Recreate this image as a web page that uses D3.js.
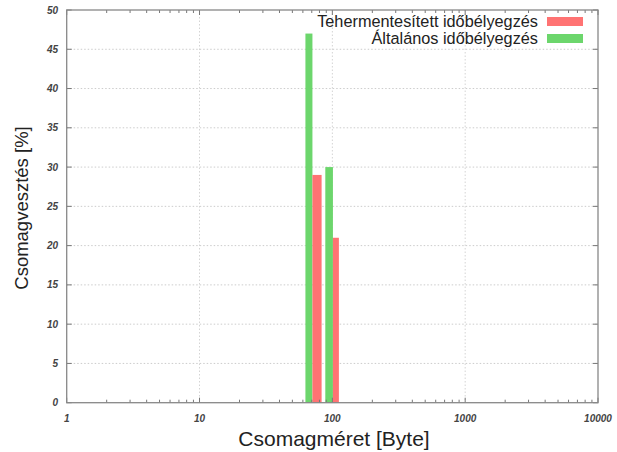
<!DOCTYPE html>
<html><head><meta charset="utf-8">
<script src="https://cdn.jsdelivr.net/npm/d3@7"></script>
<style>body{margin:0;background:#fff;}svg{display:block;}</style>
</head><body>
<svg id="c" width="617" height="452"></svg>
<script>
// Data
const seriesNames = ["Tehermentesített időbélyegzés", "Általános időbélyegzés"];
// bin edges (bytes) and loss values (%)
const redBinLow = [70.8, 101];
const redBinHigh = [83, 112];
const redValues = [29, 21];
const greenBinLow = [62.7, 88.5];
const greenBinHigh = [70.8, 101];
const greenValues = [47, 30];
const xTickValues = [1, 10, 100, 1000, 10000];
const yTickValues = [0, 5, 10, 15, 20, 25, 30, 35, 40, 45, 50];

const colors = {red: "#ff7373", green: "#6cd66c"};

const svg = d3.select("#c");
const L = 66.7, R = 598, T = 10, B = 402.7;
const x = d3.scaleLog().domain([1, 10000]).range([L, R]);
const y = d3.scaleLinear().domain([0, 50]).range([B, T]);

// grid
const g = svg.append("g");
g.selectAll("line.hg").data(yTickValues.filter(v => v > 0 && v < 50)).join("line")
  .attr("x1", L).attr("x2", R).attr("y1", d => y(d)).attr("y2", d => y(d))
  .attr("stroke", "#cccccc").attr("stroke-width", 1).attr("stroke-dasharray", "1.5,2");
g.selectAll("line.vg").data(xTickValues.filter(v => v > 1 && v < 10000)).join("line")
  .attr("x1", d => x(d)).attr("x2", d => x(d)).attr("y1", T).attr("y2", B)
  .attr("stroke", "#d4d4d4").attr("stroke-width", 1).attr("stroke-dasharray", "1.5,2");

// bars
function bars(lo, hi, vals, col) {
  svg.append("g").selectAll("rect").data(vals.map((v, i) => ({lo: lo[i], hi: hi[i], v}))).join("rect")
    .attr("x", d => x(d.lo)).attr("width", d => x(d.hi) - x(d.lo))
    .attr("y", d => y(d.v)).attr("height", d => y(0) - y(d.v))
    .attr("fill", col);
}
bars(greenBinLow, greenBinHigh, greenValues, colors.green);
bars(redBinLow, redBinHigh, redValues, colors.red);

// axes: bottom with minor ticks
const minor = [];
for (let e = 0; e < 4; e++) for (let k = 2; k <= 9; k++) minor.push(k * Math.pow(10, e));
const axG = svg.append("g");
const tickCol = "#777";
[B, T].forEach((yy, idx) => {
  const dir = idx === 0 ? -1 : 1;
  axG.selectAll(null).data(minor).join("line")
    .attr("x1", d => x(d)).attr("x2", d => x(d)).attr("y1", yy).attr("y2", yy + dir * 3)
    .attr("stroke", tickCol).attr("stroke-width", 1);
  axG.selectAll(null).data(xTickValues).join("line")
    .attr("x1", d => x(d)).attr("x2", d => x(d)).attr("y1", yy).attr("y2", yy + dir * 5)
    .attr("stroke", tickCol).attr("stroke-width", 1);
});
[L, R].forEach((xx, idx) => {
  const dir = idx === 0 ? 1 : -1;
  axG.selectAll(null).data(yTickValues).join("line")
    .attr("x1", xx).attr("x2", xx + dir * 5).attr("y1", d => y(d)).attr("y2", d => y(d))
    .attr("stroke", tickCol).attr("stroke-width", 1);
});
// frame
svg.append("rect").attr("x", L).attr("y", T).attr("width", R - L).attr("height", B - T)
  .attr("fill", "none").attr("stroke", "#888").attr("stroke-width", 1.3);

// tick labels
const tf = "Liberation Sans, Arial, sans-serif";
svg.append("g").selectAll("text").data(yTickValues).join("text")
  .attr("x", 58).attr("y", d => y(d) + 3.5).attr("text-anchor", "end")
  .attr("font-family", tf).attr("font-size", 10).attr("font-weight", "bold").attr("font-style", "italic")
  .attr("fill", "#444").text(d => d);
svg.append("g").selectAll("text").data(xTickValues).join("text")
  .attr("x", d => x(d)).attr("y", 422).attr("text-anchor", "middle")
  .attr("font-family", tf).attr("font-size", 10).attr("font-weight", "bold").attr("font-style", "italic")
  .attr("fill", "#444").text(d => d);

// axis titles
svg.append("text").attr("x", 334).attr("y", 445.5).attr("text-anchor", "middle")
  .attr("font-family", tf).attr("font-size", 21).attr("fill", "#222").text("Csomagméret [Byte]");
svg.append("text").attr("transform", "translate(28,208) rotate(-90)").attr("text-anchor", "middle")
  .attr("font-family", tf).attr("font-size", 18.5).attr("fill", "#222").text("Csomagvesztés [%]");

// legend
const legCols = [colors.red, colors.green];
const leg = svg.append("g");
seriesNames.forEach((n, i) => {
  const cy = 21.5 + i * 17;
  leg.append("text").attr("x", 538).attr("y", cy + 5.5).attr("text-anchor", "end")
    .attr("font-family", tf).attr("font-size", 16.3).attr("fill", "#222").text(n);
  leg.append("rect").attr("x", 547).attr("y", cy - 4.5).attr("width", 36).attr("height", 9)
    .attr("fill", legCols[i]);
});
</script>
</body></html>
